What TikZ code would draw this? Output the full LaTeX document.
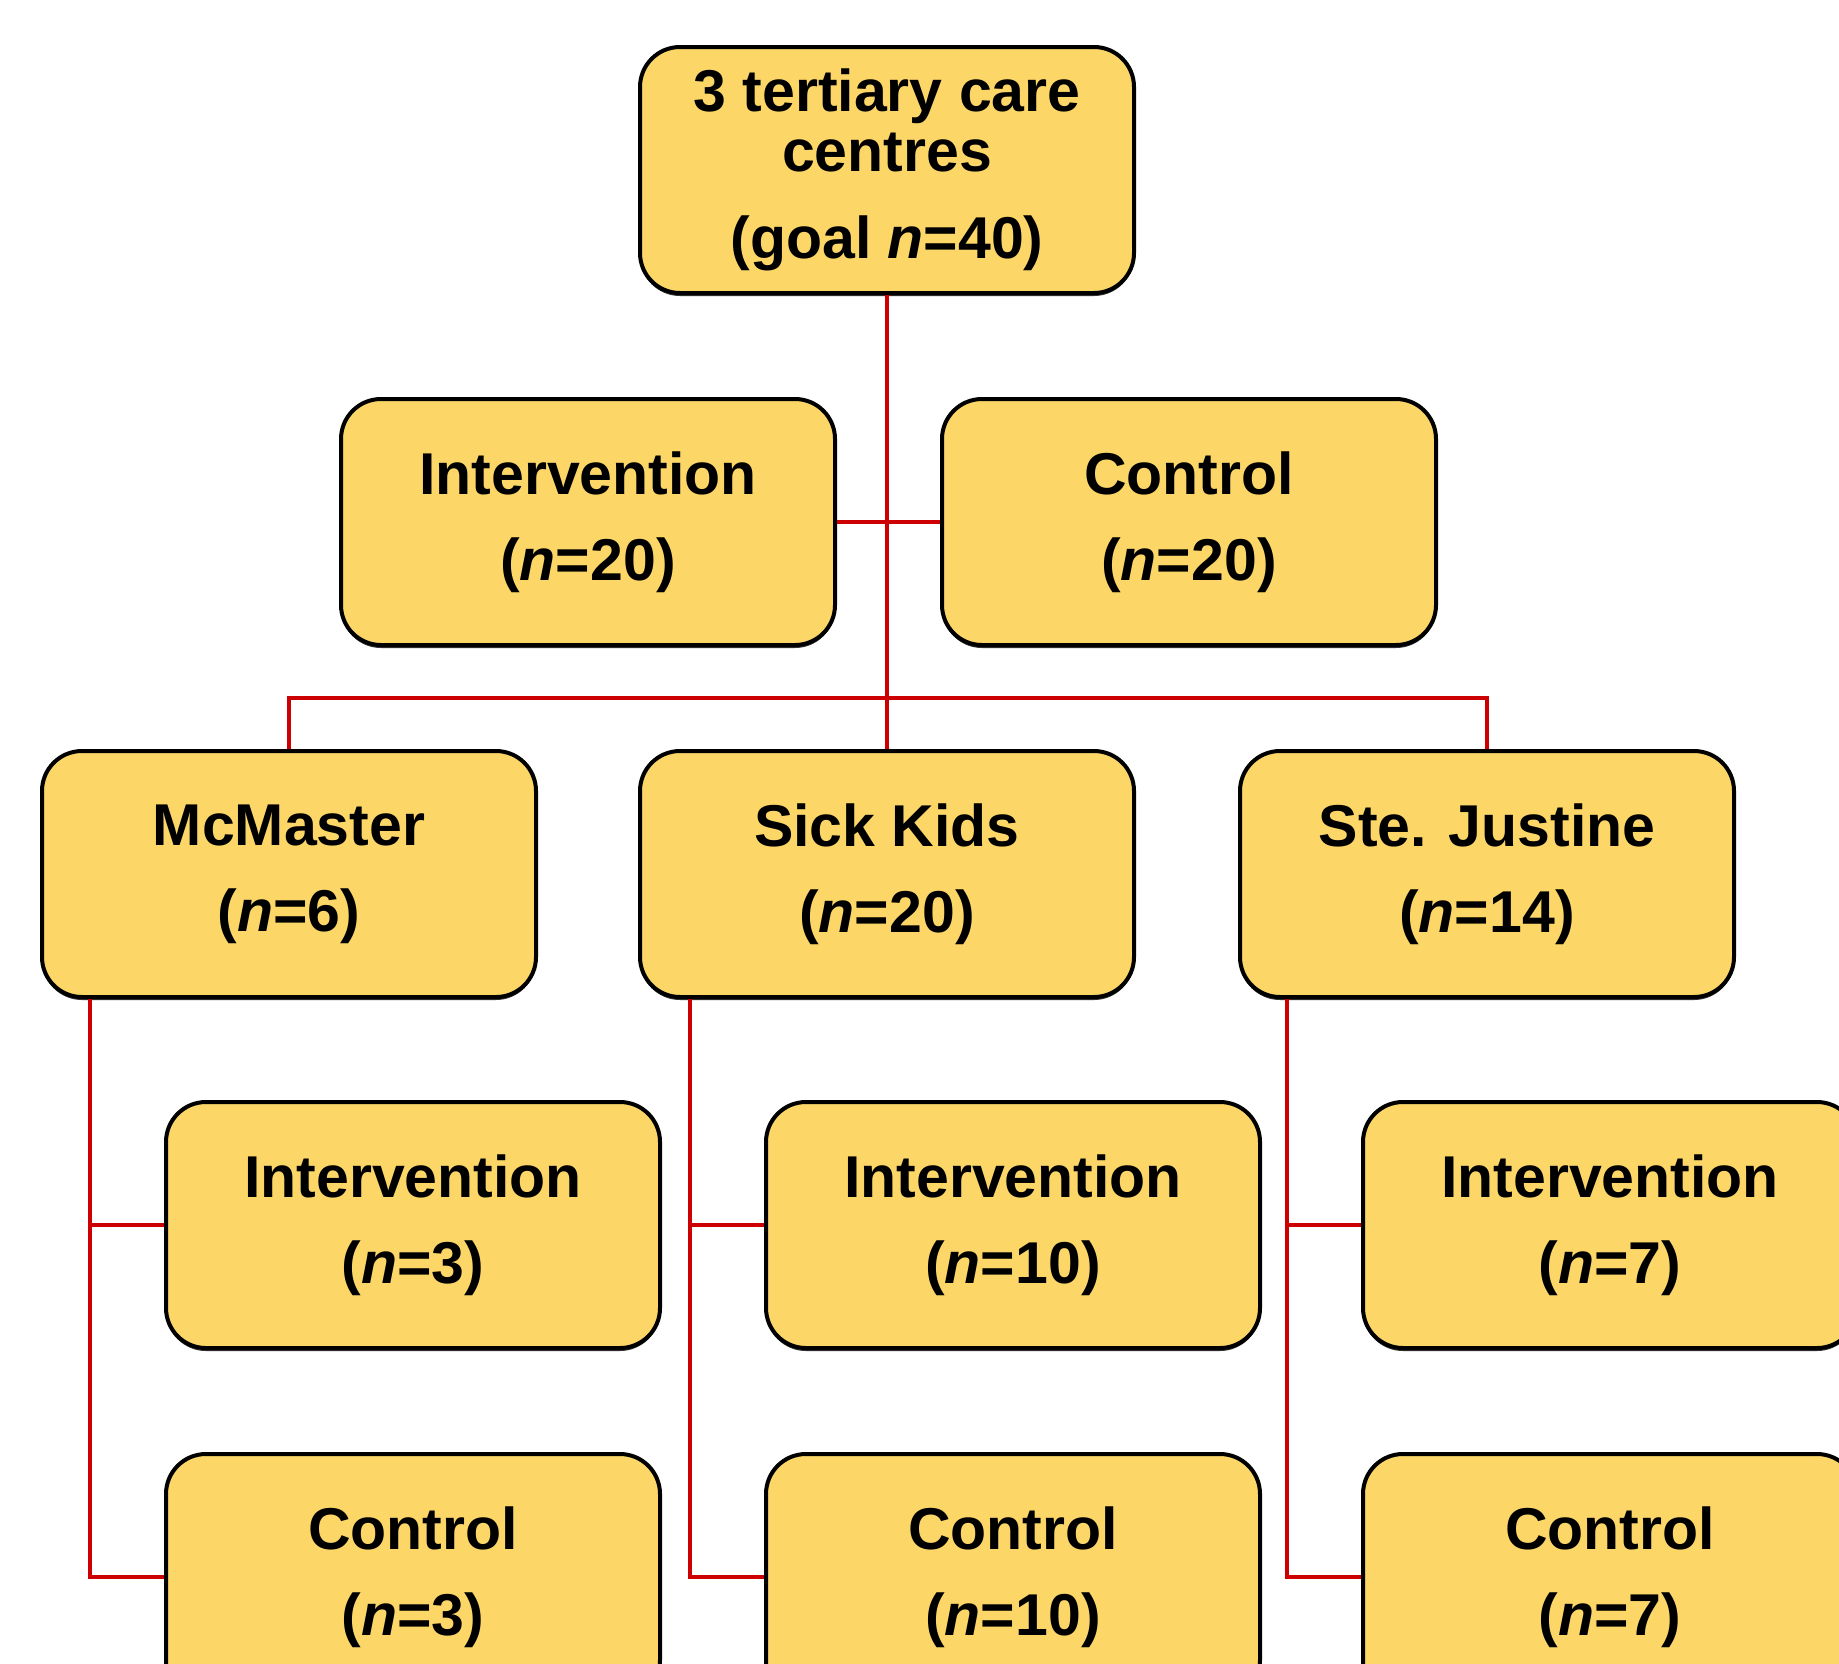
\documentclass[tikz,border=0pt]{standalone}
\usepackage{fontspec}
\setmainfont{Liberation Sans}
\usetikzlibrary{calc,shadows}
\definecolor{boxfill}{RGB}{252,215,104}
\definecolor{linkred}{RGB}{204,0,0}
\begin{document}
\begin{tikzpicture}[x=1pt,y=-1pt,
  box/.style={draw=black, line width=4pt, fill=boxfill, rounded corners=40pt,
    minimum width=494pt, minimum height=246pt, inner sep=0pt, align=center,
    font=\fontsize{59}{86}\selectfont\bfseries,
    drop shadow={shadow xshift=0pt, shadow yshift=-3pt, opacity=1, fill=black!80}},
  topbox/.style={box, font=\fontsize{59}{60}\selectfont\bfseries},
  link/.style={draw=linkred, line width=4.5pt}]
\useasboundingbox (0,0) rectangle (1839,1663);
\clip (0,0) rectangle (1839,1663);
\coordinate (bar) at (887,698);
\node[topbox] (top) at (887,170) {3 tertiary care\\centres\\[27pt](goal \textit{n}=40)};
\node[box] (int20) at (588,522) {Intervention\\(\textit{n}=20)};
\node[box] (ctrl20) at (1189,522) {Control\\(\textit{n}=20)};
\node[box] (mcm) at (289,874) {McMaster\\(\textit{n}=6)};
\node[box] (sick) at (887,874) {Sick Kids\\(\textit{n}=20)};
\node[box] (stej) at (1487,874) {Ste. Justine\\(\textit{n}=14)};
\node[box] (ci1) at (413,1225) {Intervention\\(\textit{n}=3)};
\node[box] (ci2) at (1013,1225) {Intervention\\(\textit{n}=10)};
\node[box] (ci3) at (1610,1225) {Intervention\\(\textit{n}=7)};
\node[box] (cc1) at (413,1577) {Control\\(\textit{n}=3)};
\node[box] (cc2) at (1013,1577) {Control\\(\textit{n}=10)};
\node[box] (cc3) at (1610,1577) {Control\\(\textit{n}=7)};
\path[link] (top.south) -- (sick.north);
\path[link] (int20.east) -- (ctrl20.west);
\path[link] (mcm.north) -- (mcm.north |- bar) -- (stej.north |- bar) -- (stej.north);
\coordinate (t1) at ($(mcm.south west)+(50,0)$);
\coordinate (t2) at ($(sick.south west)+(52,0)$);
\coordinate (t3) at ($(stej.south west)+(49,0)$);
\path[link] (t1) |- (cc1.west);
\path[link] (t1 |- ci1.west) -- (ci1.west);
\path[link] (t2) |- (cc2.west);
\path[link] (t2 |- ci2.west) -- (ci2.west);
\path[link] (t3) |- (cc3.west);
\path[link] (t3 |- ci3.west) -- (ci3.west);
\end{tikzpicture}
\end{document}
